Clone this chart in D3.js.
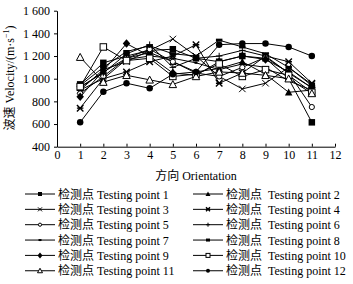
<!DOCTYPE html>
<html><head><meta charset="utf-8">
<script src="https://cdn.jsdelivr.net/npm/d3@7"></script>
<style>body{margin:0;background:#fff}svg{display:block}</style>
</head><body><svg id="c" width="353" height="284"></svg>
<script>
const orientations = [1,2,3,4,5,6,7,8,9,10,11];
const xTicks = [0,1,2,3,4,5,6,7,8,9,10,11,12];
const yTicks = [400,600,800,1000,1200,1400,1600];
const yTickLabels = ["400","600","800","1 000","1 200","1 400","1 600"];
const seriesNames = ["1","2","3","4","5","6","7","8","9","10","11","12"];
const markers = ["square","triangle","cross","asterisk","circleOpen","plus","tick","dash","diamond","squareOpen","triangleOpen","circle"];
const s1  = [950,1140,1200,1250,1260,1180,1150,1200,1180,1000,615];
const s2  = [920,1060,1180,1230,1150,1060,1090,1150,1040,880,900];
const s3  = [900,1080,1150,1250,1350,1200,1020,910,960,1100,950];
const s4  = [740,1000,1060,1150,1200,1300,960,1050,1200,1150,960];
const s5  = [870,1020,1180,1260,1150,1050,1020,1100,1190,1050,750];
const s6  = [930,1050,1220,1300,1100,1180,1200,1250,1200,1050,920];
const s7  = [900,1000,1170,1200,1180,1140,1080,1130,1100,980,900];
const s8  = [940,1100,1240,1290,1220,1200,1340,1280,1220,1100,940];
const s9  = [840,1070,1310,1200,1050,1030,1150,1200,1170,1060,920];
const s10 = [930,1280,1160,1180,1020,1040,1130,1020,1080,1030,880];
const s11 = [1190,970,1030,990,950,1020,1060,1050,1030,1000,870];
const s12 = [615,885,960,915,1040,1060,1300,1310,1310,1280,1200];
const seriesValues = [s1,s2,s3,s4,s5,s6,s7,s8,s9,s10,s11,s12];

const svg = d3.select("#c");
const FONT = "'Liberation Serif','Times New Roman','Noto Sans CJK SC',serif";
const x = d3.scaleLinear().domain([0,12]).range([57,335]);
const y = d3.scaleLinear().domain([400,1600]).range([146.7,10.7]);

// axes
const gx = svg.append("g").attr("transform",`translate(0,${y(400)})`)
  .call(d3.axisBottom(x).tickValues(xTicks).tickSizeInner(-3).tickSizeOuter(0).tickPadding(9));
const gy = svg.append("g").attr("transform",`translate(${x(0)},0)`)
  .call(d3.axisLeft(y).tickValues(yTicks).tickFormat((d,i)=>yTickLabels[i]).tickSizeInner(3).tickSizeOuter(0).tickPadding(4));
[gx,gy].forEach(g=>{
  g.selectAll("path,line").attr("stroke","#000").attr("stroke-width",1);
  g.selectAll("text").attr("font-family",FONT).attr("font-size",12).attr("fill","#000");
});
gx.selectAll("text").attr("dy","0.3em");

// axis titles
svg.append("text").attr("x",196).attr("y",180).attr("text-anchor","middle")
  .attr("font-family",FONT).attr("font-size",12).text("方向 Orientation");
const yt = svg.append("text").attr("transform","translate(14,78) rotate(-90)")
  .attr("text-anchor","middle").attr("font-family",FONT).attr("font-size",12);
yt.append("tspan").text("波速 Velocity/(m·s");
yt.append("tspan").attr("font-size",8).attr("dy",-5).text("−1");
yt.append("tspan").attr("dy",5).text(")");

function drawMarker(g, type, cx, cy, s){
  const h = s/2;
  const st = {stroke:"#000","stroke-width":1};
  function ap(sel, attrs){ for(const k in attrs) sel.attr(k, attrs[k]); return sel; }
  switch(type){
    case "square": ap(g.append("rect"),{x:cx-h,y:cy-h,width:s,height:s,fill:"#000"}); break;
    case "squareOpen": ap(g.append("rect"),{x:cx-h,y:cy-h,width:s,height:s,fill:"#fff",...st}); break;
    case "triangle": ap(g.append("path"),{d:`M${cx},${cy-h-0.5}L${cx+h+0.5},${cy+h}L${cx-h-0.5},${cy+h}Z`,fill:"#000"}); break;
    case "triangleOpen": ap(g.append("path"),{d:`M${cx},${cy-h-0.5}L${cx+h+0.5},${cy+h}L${cx-h-0.5},${cy+h}Z`,fill:"#fff",...st}); break;
    case "circle": ap(g.append("circle"),{cx:cx,cy:cy,r:h,fill:"#000"}); break;
    case "circleOpen": ap(g.append("circle"),{cx:cx,cy:cy,r:h*0.8,fill:"#fff",...st}); break;
    case "diamond": ap(g.append("path"),{d:`M${cx},${cy-h-1}L${cx+h+0.5},${cy}L${cx},${cy+h+1}L${cx-h-0.5},${cy}Z`,fill:"#000"}); break;
    case "cross": ap(g.append("path"),{d:`M${cx-h},${cy-h}L${cx+h},${cy+h}M${cx+h},${cy-h}L${cx-h},${cy+h}`,fill:"none",...st}); break;
    case "asterisk": ap(g.append("path"),{d:`M${cx-h},${cy-h}L${cx+h},${cy+h}M${cx+h},${cy-h}L${cx-h},${cy+h}M${cx-h},${cy}L${cx+h},${cy}`,fill:"none",...st,"stroke-width":1.4}); break;
    case "plus": ap(g.append("path"),{d:`M${cx-h},${cy}L${cx+h},${cy}M${cx},${cy-h}L${cx},${cy+h}`,fill:"none",...st}); break;
    case "tick": ap(g.append("path"),{d:`M${cx-1.5},${cy}L${cx+1.5},${cy}`,fill:"none",...st,"stroke-width":2}); break;
    case "dash": ap(g.append("rect"),{x:cx-h,y:cy-1.5,width:s,height:3,fill:"#000"}); break;
  }
}

const line = d3.line().x((d,i)=>x(orientations[i])).y(d=>y(d));
const plot = svg.append("g");
seriesValues.forEach(vals=>{
  plot.append("path").attr("d",line(vals)).attr("fill","none").attr("stroke","#000").attr("stroke-width",1);
});
seriesValues.forEach((vals,si)=>{
  const g = plot.append("g");
  vals.forEach((v,i)=>drawMarker(g, markers[si], x(orientations[i]), y(v), 6.5));
});

// legend
seriesNames.forEach((n,i)=>{
  const col = i%2, row = Math.floor(i/2);
  const lx = col===0 ? 25 : 193;
  const cy = 194 + row*15.35;
  const g = svg.append("g");
  g.append("line").attr("x1",lx).attr("x2",lx+30).attr("y1",cy).attr("y2",cy).attr("stroke","#000").attr("stroke-width",1);
  drawMarker(g, markers[i], lx+15, cy, 4);
  g.append("text").attr("x",lx+33).attr("y",cy+4.5).attr("font-family",FONT).attr("font-size",12).text("检测点");
  g.append("text").attr("x",col===0?97:268).attr("y",cy+4.5).attr("font-family",FONT).attr("font-size",12).text("Testing point "+n);
});
</script></body></html>
